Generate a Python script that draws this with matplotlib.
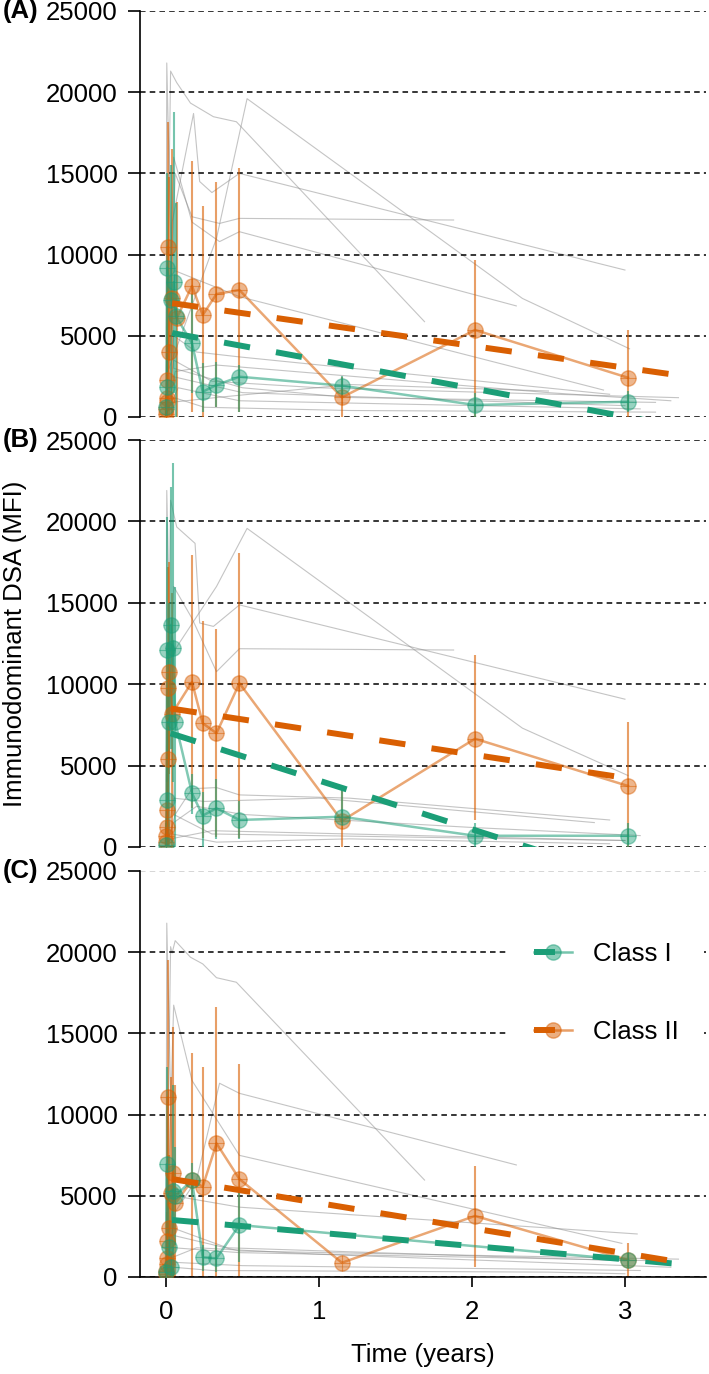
import matplotlib.pyplot as plt
from matplotlib.lines import Line2D
from matplotlib.legend_handler import HandlerBase

plt.rcParams['font.family'] = ['Liberation Sans', 'DejaVu Sans']
plt.rcParams['lines.scale_dashes'] = False

GREEN = '#1B9E77'
ORANGE = '#D95F02'

y_ticks = [0, 5000, 10000, 15000, 20000, 25000]
x_ticks = [0, 1, 2, 3]
panel_names = ['(A)', '(B)', '(C)']

# ---------------- Panel A ----------------
a_green_t = [0.0, 0.004, 0.008, 0.03, 0.05, 0.065, 0.17, 0.24, 0.33, 0.48, 1.15, 2.02, 3.02]
a_green_m = [600, 1870, 9200, 7200, 8300, 6200, 4540, 1560, 1970, 2480, 1930, 740, 940]
a_green_lo = [0, 300, 2500, 1000, 1500, 0, 1500, 300, 600, 300, 1300, 0, 300]
a_green_hi = [1400, 4000, 15000, 15500, 18800, 13200, 7600, 3300, 3400, 3200, 2500, 1500, 1600]

a_orange_t = [0.0, 0.002, 0.004, 0.006, 0.008, 0.012, 0.02, 0.04, 0.07, 0.17, 0.24, 0.33, 0.48, 1.15, 2.02, 3.02]
a_orange_m = [200, 500, 900, 1200, 2280, 10490, 4020, 7310, 6080, 8070, 6280, 7570, 7820, 1210, 5360, 2420]
a_orange_lo = [0, 0, 0, 0, 0, 2800, 0, 0, 0, 330, 0, 630, 330, 0, 0, 0]
a_orange_hi = [400, 1000, 1800, 2400, 4500, 18180, 14800, 16500, 13260, 15760, 13010, 14490, 15310, 2460, 9670, 5360]

a_fit_green_t = [0.04, 3.3]
a_fit_green_v = [5170, -490]
a_fit_orange_t = [0.04, 3.3]
a_fit_orange_v = [7010, 2635]

a_patients = [
    ([0.0, 0.005, 0.05, 0.5, 1.2, 3.2], [500, 21800, 3000, 1800, 1200, 900]),
    ([0.0, 0.03, 0.07, 0.16, 0.31, 0.46, 1.69], [800, 21300, 20590, 19330, 18490, 18180, 5870]),
    ([0.02, 0.33, 0.53, 2.33, 3.03], [3000, 11000, 19600, 7300, 4200]),
    ([0.0, 0.04, 0.18, 0.22, 0.3, 0.48, 3.0], [1000, 12000, 18690, 14500, 13820, 15000, 9050]),
    ([0.0, 0.06, 0.17, 0.35, 0.48, 1.88], [500, 15000, 12330, 11920, 12230, 12130]),
    ([0.01, 0.05, 0.17, 0.35, 0.48, 2.29], [600, 16000, 12000, 10800, 11410, 6840]),
    ([0.0, 0.06, 0.48, 2.86], [300, 9000, 7410, 1660]),
    ([0.0, 0.05, 0.3, 1.0, 3.35], [200, 3500, 2200, 1800, 1190]),
    ([0.0, 0.04, 0.5, 2.0, 3.0], [100, 2500, 1500, 1000, 700]),
    ([0.0, 0.08, 0.48, 1.5, 3.1], [200, 1800, 1000, 800, 500]),
    ([0.0, 0.05, 0.25, 1.2, 3.2], [100, 1200, 600, 400, 300]),
    ([0.0, 0.06, 0.33, 2.5, 3.3], [0, 2800, 3200, 1500, 1000]),
    ([0.0, 0.05, 0.2, 0.48, 2.9], [0, 5000, 4000, 3700, 1400]),
    ([0.0, 0.03, 0.33, 1.2, 2.5], [200, 900, 1200, 2000, 1600]),
]

# ---------------- Panel B ----------------
b_green_t = [0.0, 0.004, 0.008, 0.02, 0.03, 0.045, 0.06, 0.17, 0.24, 0.33, 0.48, 1.15, 2.02, 3.02]
b_green_m = [100, 2890, 12100, 7700, 13640, 12200, 7700, 3300, 1930, 2380, 1660, 1860, 690, 690]
b_green_lo = [0, 0, 4000, 0, 6000, 4000, 0, 2000, 0, 500, 500, 1500, 0, 0]
b_green_hi = [1500, 5500, 20270, 15000, 22130, 23600, 16000, 4500, 3400, 4200, 2800, 3500, 1500, 1500]

b_orange_t = [0.0, 0.002, 0.004, 0.006, 0.01, 0.015, 0.02, 0.04, 0.17, 0.24, 0.33, 0.48, 1.15, 2.02, 3.02]
b_orange_m = [300, 700, 1200, 2270, 9740, 5400, 10770, 8200, 10140, 7600, 6990, 10060, 1610, 6650, 3750]
b_orange_lo = [0, 0, 0, 0, 0, 0, 4500, 0, 2400, 550, 630, 550, 0, 1660, 0]
b_orange_hi = [800, 1600, 2500, 4500, 17200, 9000, 17500, 15600, 17930, 13900, 13390, 18070, 3500, 11800, 7700]

b_fit_green_t = [0.03, 3.02]
b_fit_green_v = [6980, -1960]
b_fit_orange_t = [0.03, 3.02]
b_fit_orange_v = [8510, 4220]

b_patients = [
    ([0.0, 0.005, 0.05, 0.3, 3.0], [200, 21900, 2000, 800, 400]),
    ([0.0, 0.03, 0.07, 0.19, 0.22, 0.31, 0.48, 3.0], [500, 21300, 19660, 18650, 13760, 13550, 14870, 9080]),
    ([0.0, 0.05, 0.17, 0.33, 0.48, 1.88], [300, 16000, 14040, 10770, 12180, 12100]),
    ([0.0, 0.05, 0.33, 0.53, 2.33, 3.02], [100, 12000, 16000, 19570, 7300, 4390]),
    ([0.0, 0.06, 0.17, 0.33, 0.48, 1.2, 2.9], [0, 2000, 3580, 3650, 3200, 3000, 1660]),
    ([0.0, 0.05, 0.2, 0.5, 2.0, 3.1], [0, 1500, 2500, 2000, 1200, 700]),
    ([0.0, 0.04, 0.33, 1.2, 2.9], [0, 800, 300, 500, 200]),
    ([0.0, 0.05, 0.25, 1.0, 2.8], [0, 3000, 2800, 3000, 1500]),
    ([0.0, 0.03, 0.3, 3.0], [0, 500, 1000, 400]),
]

# ---------------- Panel C ----------------
c_green_t = [0.0, 0.004, 0.02, 0.03, 0.045, 0.06, 0.17, 0.24, 0.33, 0.48, 3.02]
c_green_m = [300, 6940, 1870, 630, 5310, 5000, 5950, 1210, 1150, 3200, 1050]
c_green_lo = [0, 1000, 800, 0, 0, 2000, 4900, 400, 300, 900, 600]
c_green_hi = [1000, 12940, 3000, 1500, 11820, 8000, 7000, 2000, 2000, 5500, 1500]

c_orange_t = [0.0, 0.002, 0.004, 0.006, 0.008, 0.012, 0.02, 0.03, 0.045, 0.06, 0.17, 0.24, 0.33, 0.48, 1.15, 2.02, 3.02]
c_orange_m = [200, 400, 800, 1200, 2230, 11060, 3030, 5150, 6420, 4530, 5950, 5560, 8230, 6030, 880, 3760, 1050]
c_orange_lo = [0, 0, 0, 0, 0, 2600, 0, 0, 0, 0, 0, 0, 0, 0, 880, 630, 0]
c_orange_hi = [500, 900, 1500, 2500, 4000, 19520, 7500, 12300, 15400, 11800, 13810, 12910, 16640, 13110, 880, 6850, 2070]

c_fit_green_t = [0.04, 3.35]
c_fit_green_v = [3510, 805]
c_fit_orange_t = [0.04, 3.3]
c_fit_orange_v = [6030, 1000]

c_patients = [
    ([0.0, 0.005, 0.05, 0.4, 3.0], [200, 21790, 3000, 1800, 1000]),
    ([0.0, 0.03, 0.04, 0.06, 0.16, 0.24, 0.33, 0.46, 1.69], [300, 20340, 19950, 20710, 19690, 19280, 18430, 18150, 5970]),
    ([0.0, 0.05, 0.17, 0.48, 2.98], [100, 16740, 12100, 7490, 2070]),
    ([0.0, 0.06, 0.2, 0.35, 0.48, 2.29], [100, 4000, 6000, 11930, 11310, 6900]),
    ([0.0, 0.05, 0.48, 3.2], [0, 1800, 1500, 1000]),
    ([0.0, 0.04, 0.2, 1.0, 3.3], [0, 1200, 1800, 1400, 600]),
    ([0.0, 0.05, 0.3, 2.5, 3.0], [0, 600, 400, 300, 200]),
    ([0.0, 0.03, 0.48, 3.35], [0, 2600, 1600, 1100]),
    ([0.0, 0.06, 0.5, 3.1], [0, 900, 700, 400]),
    ([0.0, 0.05, 0.48, 3.08], [0, 5000, 4300, 2650]),
]


# Legend-Symbol: dicker Strich links, Punkt in der Mitte, duenne Linie rechts
class SplitHandler(HandlerBase):
    def create_artists(self, legend, orig_handle, xdescent, ydescent,
                       width, height, fontsize, trans):
        col = orig_handle.get_color()
        y = (height - ydescent) / 2
        x0 = -xdescent
        thin = Line2D([x0, x0 + width], [y, y], color=col, lw=1.8, alpha=0.6)
        thick = Line2D([x0, x0 + 0.55 * width], [y, y], color=col, lw=4.3,
                       solid_capstyle='butt')
        dot = Line2D([x0 + 0.5 * width], [y], marker='o', ms=11, color=col,
                     alpha=0.5, lw=0)
        for a in (thin, thick, dot):
            a.set_transform(trans)
        return [thin, thick, dot]


def draw_panel(ax, patients, green, orange, fit_green, fit_orange, top_grid):
    for t, v in patients:
        ax.plot(t, v, color='#8a8a8a', lw=0.8, alpha=0.5, zorder=1)

    for y in y_ticks:
        col = top_grid if y == 25000 else 'black'
        ax.axhline(y, color=col, lw=1.1, ls=(0, (4, 3)), zorder=1.5)

    for (t, m, lo, hi), col in [(orange, ORANGE), (green, GREEN)]:
        ax.vlines(t, lo, hi, color=col, lw=1.5, alpha=0.6, zorder=2)
        ax.plot(t, m, color=col, lw=1.8, alpha=0.55, zorder=3)
        ax.plot(t, m, 'o', ms=11, mfc=col, mec=col, mew=1, alpha=0.45, zorder=4)
        ax.plot(t, m, '+', ms=11, mew=0.8, color=col, alpha=0.5, zorder=4)

    for (ft, fv), col in [(fit_green, GREEN), (fit_orange, ORANGE)]:
        ax.plot(ft, fv, color=col, lw=4.3, ls=(0, (19, 19)), zorder=5)

    ax.set_xlim(-0.17, 3.53)
    ax.set_ylim(0, 25000)
    ax.set_yticks(y_ticks)
    ax.set_yticklabels([str(y) for y in y_ticks])
    ax.tick_params(axis='y', length=8.6, width=1.2, pad=7.5, labelsize=18.5)
    for s in ['top', 'right', 'bottom']:
        ax.spines[s].set_visible(False)
    ax.spines['left'].set_linewidth(1.2)
    ax.tick_params(axis='x', bottom=False, labelbottom=False)


fig = plt.figure(figsize=(7.09, 13.74), dpi=100)
W, H = 709, 1374
left = 140 / W
width = (706 - 140) / W
panel_px = [(11, 417), (440, 847), (871, 1277)]

axes = []
for top, bottom in panel_px:
    ax = fig.add_axes([left, 1 - bottom / H, width, (bottom - top) / H])
    axes.append(ax)

draw_panel(axes[0], a_patients,
           (a_green_t, a_green_m, a_green_lo, a_green_hi),
           (a_orange_t, a_orange_m, a_orange_lo, a_orange_hi),
           (a_fit_green_t, a_fit_green_v), (a_fit_orange_t, a_fit_orange_v), 'black')
draw_panel(axes[1], b_patients,
           (b_green_t, b_green_m, b_green_lo, b_green_hi),
           (b_orange_t, b_orange_m, b_orange_lo, b_orange_hi),
           (b_fit_green_t, b_fit_green_v), (b_fit_orange_t, b_fit_orange_v), 'black')
draw_panel(axes[2], c_patients,
           (c_green_t, c_green_m, c_green_lo, c_green_hi),
           (c_orange_t, c_orange_m, c_orange_lo, c_orange_hi),
           (c_fit_green_t, c_fit_green_v), (c_fit_orange_t, c_fit_orange_v), '#cccccc')

# x-Achse nur im unteren Panel
axc = axes[2]
axc.spines['bottom'].set_visible(True)
axc.spines['bottom'].set_linewidth(1.2)
axc.set_xticks(x_ticks)
axc.set_xticklabels([str(x) for x in x_ticks])
axc.tick_params(axis='x', bottom=True, labelbottom=True, length=7.5, width=1.2,
                pad=9, labelsize=18.5)

# Legende im Panel C
handles = [Line2D([], [], color=GREEN), Line2D([], [], color=ORANGE)]
leg = axc.legend(handles, ['Class I', 'Class II'], handler_map={Line2D: SplitHandler()},
                 loc='upper left', bbox_to_anchor=(508 / W, 1 - 916 / H),
                 bbox_transform=fig.transFigure, borderaxespad=0,
                 frameon=True, fancybox=False, facecolor='white', edgecolor='none',
                 framealpha=1, fontsize=18.5, handlelength=1.5, handletextpad=0.8,
                 labelspacing=2.1, borderpad=1.0)
leg.set_zorder(10)

# Panel-Buchstaben
for (top, bottom), name in zip(panel_px, panel_names):
    fig.text(3 / W, 1 - top / H, name, fontsize=18.5, fontweight='bold',
             ha='left', va='center')

fig.text(15 / W, 1 - 644 / H, 'Immunodominant DSA (MFI)', fontsize=18.5,
         rotation=90, ha='center', va='center')
fig.text(423 / W, 1 - 1355 / H, 'Time (years)', fontsize=18.5,
         ha='center', va='center')

fig.savefig('out.png', dpi=100)
